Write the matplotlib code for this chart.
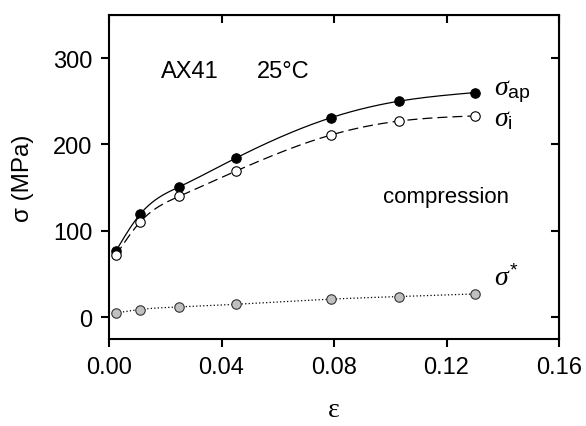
import numpy as np
import matplotlib
matplotlib.use('Agg')
import matplotlib.pyplot as plt

plt.rcParams['font.family'] = ['Liberation Sans', 'DejaVu Sans']
plt.rcParams['mathtext.fontset'] = 'custom'
plt.rcParams['mathtext.it'] = 'Liberation Serif:italic'
plt.rcParams['mathtext.rm'] = 'Liberation Sans'

# strain and stress values
strain = [0.0025, 0.011, 0.025, 0.045, 0.079, 0.103, 0.130]
sigma_ap = [77, 119, 151, 184, 231, 250, 260]
sigma_i = [72, 110, 140, 169, 211, 227, 233]
sigma_star = [5, 9, 12, 15, 21, 24, 27]

x_ticks = [0.00, 0.04, 0.08, 0.12, 0.16]
y_ticks = [0, 100, 200, 300]


def smooth(x, y, n=200):
    # natural cubic spline through the points, for drawing only
    x = np.asarray(x, float)
    y = np.asarray(y, float)
    h = np.diff(x)
    m = len(x)
    A = np.zeros((m, m))
    b = np.zeros(m)
    A[0, 0] = A[-1, -1] = 1
    for i in range(1, m - 1):
        A[i, i - 1] = h[i - 1]
        A[i, i] = 2 * (h[i - 1] + h[i])
        A[i, i + 1] = h[i]
        b[i] = 6 * ((y[i + 1] - y[i]) / h[i] - (y[i] - y[i - 1]) / h[i - 1])
    M = np.linalg.solve(A, b)
    xs = np.linspace(x[0], x[-1], n)
    k = np.clip(np.searchsorted(x, xs) - 1, 0, m - 2)
    t1 = x[k + 1] - xs
    t0 = xs - x[k]
    hk = h[k]
    ys = (M[k] * t1**3 + M[k + 1] * t0**3) / (6 * hk) \
        + (y[k] / hk - M[k] * hk / 6) * t1 + (y[k + 1] / hk - M[k + 1] * hk / 6) * t0
    return xs, ys


fig = plt.figure(figsize=(5.86, 4.27), dpi=100)
ax = fig.add_axes([0.186, 0.204, 0.768, 0.759])

xs, ys = smooth(strain, sigma_ap)
ax.plot(xs, ys, color='black', lw=0.9)
ax.plot(strain, sigma_ap, 'o', color='black', ms=6.8, mec='black', mew=0.8)

xs, ys = smooth(strain, sigma_i)
ax.plot(xs, ys, color='black', lw=0.9, dashes=(8, 4))
ax.plot(strain, sigma_i, 'o', color='white', ms=6.8, mec='black', mew=0.8)

xs, ys = smooth(strain, sigma_star)
ax.plot(xs, ys, color='black', lw=0.9, dashes=(1, 1.8))
ax.plot(strain, sigma_star, 'o', color='#c0c0c0', ms=6.8, mec='#333333', mew=0.8)

ax.set_xlim(0, 0.16)
ax.set_ylim(-25, 350)
ax.set_xticks(x_ticks)
ax.set_xticklabels([f'{v:.2f}' for v in x_ticks])
ax.set_yticks(y_ticks)
for s in ax.spines.values():
    s.set_linewidth(1.5)
ax.tick_params(direction='out', length=6, width=1.5, labelsize=17, pad=6)

top = ax.secondary_xaxis('top')
top.set_xticks(x_ticks)
top.tick_params(direction='in', length=6, width=1.5, labeltop=False)
right = ax.secondary_yaxis('right')
right.set_yticks(y_ticks)
right.tick_params(direction='in', length=6, width=1.5, labelright=False)

ax.set_ylabel('σ (MPa)', fontsize=17.5, labelpad=14)
ax.set_xlabel('ε', fontsize=20, family='Liberation Serif', labelpad=14)

ax.text(0.0185, 285, 'AX41', fontsize=17, va='center')
ax.text(0.0526, 285, '25°C', fontsize=17, va='center')
ax.text(0.0974, 140, 'compression', fontsize=16, va='center')
ax.text(0.137, 262, r'$\sigma_\mathrm{ap}$', fontsize=20, va='center')
ax.text(0.137, 230, r'$\sigma_\mathrm{i}$', fontsize=20, va='center')
ax.text(0.137, 46, r'$\sigma^{*}$', fontsize=20, va='center')

fig.savefig('out.png', dpi=100)
